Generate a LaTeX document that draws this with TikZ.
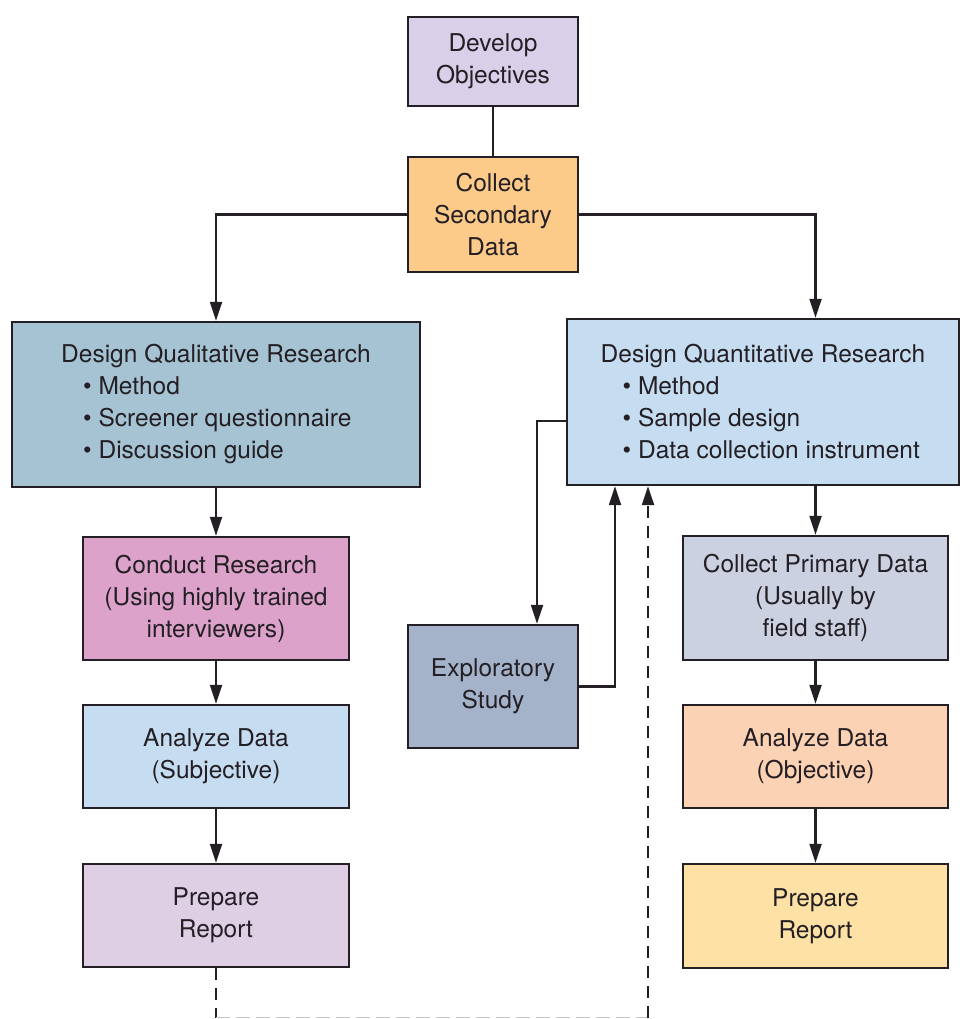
\documentclass[tikz,border=0pt]{standalone}
\usepackage{fontspec}
\setmainfont{TeX Gyre Heros}
\usetikzlibrary{arrows.meta,calc}

\definecolor{ink}{HTML}{231F24}
\definecolor{cObj}{HTML}{D8D0E8}
\definecolor{cSec}{HTML}{FCCB8A}
\definecolor{cQual}{HTML}{A6C3D3}
\definecolor{cQuant}{HTML}{C6DCF0}
\definecolor{cCond}{HTML}{DCA2CA}
\definecolor{cAnaS}{HTML}{C6DCF0}
\definecolor{cPrepL}{HTML}{DECFE5}
\definecolor{cExpl}{HTML}{A4B2CA}
\definecolor{cPrim}{HTML}{CBD1E0}
\definecolor{cAnaO}{HTML}{FCD2B5}
\definecolor{cPrepR}{HTML}{FDE1A5}

\tikzset{
  box/.style={draw=ink, line width=2.4pt, rectangle, inner sep=0pt,
    text=ink, align=center,
    font=\fontsize{24.5}{32}\selectfont},
  link/.style={draw=ink, line width=2.2pt},
  arr/.style={link, -{Triangle[length=19pt,width=12pt]}},
  dashlink/.style={link, dash pattern=on 12pt off 8pt},
  faintlink/.style={draw=gray!45, line width=1.5pt, dash pattern=on 14pt off 6pt},
}

\newcommand{\bul}[1]{\hspace*{22pt}\textbullet\ #1}

\begin{document}
\begin{tikzpicture}[x=1pt,y=-1pt]
  \useasboundingbox (0,0) rectangle (962,1019);

  % top of the process
  \node[box, fill=cObj, minimum width=170pt, minimum height=89pt] (obj) at (493,61.5) {Develop\\Objectives};
  \node[box, fill=cSec, minimum width=170pt, minimum height=115pt] (sec) at (493,214.5) {Collect\\Secondary\\Data};

  % qualitative branch
  \node[box, fill=cQual, minimum width=408pt, minimum height=165pt, align=left] (qual) at (216,404.5)
    {Design Qualitative Research\\ \bul{Method}\\ \bul{Screener questionnaire}\\ \bul{Discussion guide}};
  \node[box, fill=cCond, minimum width=266pt, minimum height=123pt] (cond) at (216,598.5)
    {Conduct Research\\(Using highly trained\\interviewers)};
  \node[box, fill=cAnaS, minimum width=266pt, minimum height=103pt] (anas) at (216,756.5)
    {Analyze Data\\(Subjective)};
  \node[box, fill=cPrepL, minimum width=266pt, minimum height=103pt] (prepl) at (216,915.5)
    {Prepare\\Report};

  % quantitative branch
  \node[box, fill=cQuant, minimum width=392pt, minimum height=166pt, align=left] (quant) at (763,402)
    {Design Quantitative Research\\ \bul{Method}\\ \bul{Sample design}\\ \bul{Data collection instrument}};
  \node[box, fill=cExpl, minimum width=170pt, minimum height=123pt] (expl) at (493,686.5)
    {Exploratory\\Study};
  \node[box, fill=cPrim, minimum width=265pt, minimum height=124pt] (prim) at (815.5,598)
    {Collect Primary Data\\(Usually by\\field staff)};
  \node[box, fill=cAnaO, minimum width=265pt, minimum height=103pt] (anao) at (815.5,756.5)
    {Analyze Data\\(Objective)};
  \node[box, fill=cPrepR, minimum width=265pt, minimum height=104pt] (prepr) at (815.5,916)
    {Prepare\\Report};

  % routing points
  \coordinate (qx) at (537,421);
  \coordinate (ux) at (615,0);
  \coordinate (dl) at (216,1017.5);
  \coordinate (dr) at (648,1017.5);

  % connectors
  \draw[link] (obj.south) -- (sec.north);
  \draw[arr] (sec.west) -| (qual.north);
  \draw[arr] (sec.east) -| (prim.north |- quant.north);
  \draw[arr] (qual.south) -- (cond.north);
  \draw[arr] (cond.south) -- (anas.north);
  \draw[arr] (anas.south) -- (prepl.north);
  \draw[arr] (prim.north |- quant.south) -- (prim.north);
  \draw[arr] (prim.south) -- (anao.north);
  \draw[arr] (anao.south) -- (prepr.north);
  \draw[arr] (quant.west |- qx) -| (qx |- expl.north);
  \draw[arr] (expl.east) -| (ux |- quant.south);

  % feedback from the qualitative report
  \draw[dashlink] (prepl.south) -- (dl);
  \draw[faintlink] (dl) -- (dr);
  \draw[dashlink, -{Triangle[length=19pt,width=12pt]}] (dr) -- (dr |- quant.south);
\end{tikzpicture}
\end{document}
